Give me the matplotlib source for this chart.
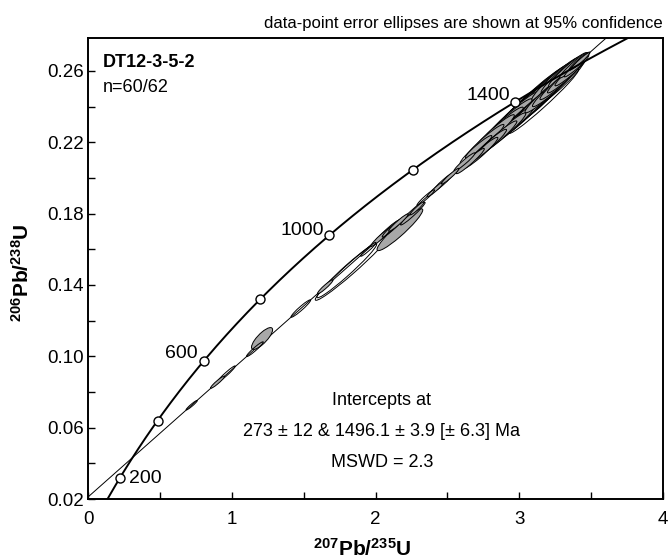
import numpy as np
import matplotlib
matplotlib.use('Agg')
import matplotlib.pyplot as plt
from matplotlib.patches import Ellipse
from matplotlib.ticker import MultipleLocator, FixedLocator

plt.rcParams['font.family'] = ['Liberation Sans', 'DejaVu Sans']
plt.rcParams['mathtext.fontset'] = 'custom'
plt.rcParams['mathtext.rm'] = 'Liberation Sans'
plt.rcParams['mathtext.bf'] = 'Liberation Sans:bold'
plt.rcParams['mathtext.it'] = 'Liberation Sans:italic'

# ---------------- data ----------------
sample_name = "DT12-3-5-2"
n_label = "n=60/62"
title_text = "data-point error ellipses are shown at 95% confidence"
intercept_lines = ["Intercepts at",
                   "273 ± 12 & 1496.1 ± 3.9 [± 6.3] Ma",
                   "MSWD = 2.3"]
lower_intercept_age = 273.0    # Ma
upper_intercept_age = 1496.1   # Ma
marker_ages = [200, 400, 600, 800, 1000, 1200, 1400]
labelled_ages = [200, 600, 1000, 1400]

x_ticks = [0, 1, 2, 3, 4]
y_ticks = [0.02, 0.06, 0.10, 0.14, 0.18, 0.22, 0.26]

# 207Pb/235U, 206Pb/238U, 1-sigma errors, error correlation, filled flag
pb207_u235 = [0.72, 0.90, 0.96, 1.16, 1.21, 1.48, 1.84, 1.80, 1.65, 1.95,
              2.04, 2.08, 2.12, 2.16, 2.17, 2.26, 2.29, 2.35, 2.42, 2.47,
              2.52, 2.62, 2.66, 2.70, 2.73, 2.76, 2.79, 2.82, 2.85, 2.87,
              2.90, 2.92, 2.95, 2.97, 3.00, 3.02, 3.04, 3.06, 3.08, 3.10,
              3.12, 3.14, 3.16, 3.18, 3.20, 3.22, 3.24, 3.26, 3.28, 3.30,
              3.32, 3.34, 3.36, 3.38, 3.40, 3.42, 3.43, 3.10, 3.25, 3.17]
pb206_u238 = [0.0726, 0.0855, 0.0900, 0.1040, 0.1100, 0.1268, 0.1500, 0.1480, 0.1390, 0.1600,
              0.1670, 0.1700, 0.1722, 0.1750, 0.1710, 0.1800, 0.1830, 0.1890, 0.1938, 0.1975,
              0.2010, 0.2090, 0.2095, 0.2160, 0.2140, 0.2205, 0.2185, 0.2250, 0.2225, 0.2285,
              0.2260, 0.2322, 0.2295, 0.2360, 0.2330, 0.2395, 0.2360, 0.2425, 0.2390, 0.2452,
              0.2418, 0.2482, 0.2448, 0.2508, 0.2478, 0.2532, 0.2505, 0.2558, 0.2535, 0.2582,
              0.2565, 0.2608, 0.2595, 0.2632, 0.2628, 0.2655, 0.2659, 0.2415, 0.2520, 0.2430]
sigma_x = [0.016, 0.020, 0.026, 0.024, 0.030, 0.028, 0.106, 0.085, 0.022, 0.022,
           0.030, 0.035, 0.030, 0.028, 0.065, 0.035, 0.020, 0.025, 0.025, 0.030,
           0.025, 0.030, 0.040, 0.045, 0.050, 0.055, 0.050, 0.060, 0.055, 0.065,
           0.060, 0.070, 0.065, 0.075, 0.070, 0.080, 0.065, 0.085, 0.070, 0.080,
           0.075, 0.085, 0.070, 0.080, 0.065, 0.075, 0.060, 0.070, 0.055, 0.060,
           0.050, 0.055, 0.045, 0.040, 0.035, 0.030, 0.025, 0.090, 0.085, 0.100]
sigma_y = [0.0011, 0.0014, 0.0019, 0.0017, 0.0025, 0.0020, 0.0076, 0.0062, 0.0016, 0.0016,
           0.0022, 0.0026, 0.0022, 0.0020, 0.0048, 0.0026, 0.0015, 0.0018, 0.0018, 0.0022,
           0.0018, 0.0021, 0.0029, 0.0032, 0.0036, 0.0039, 0.0036, 0.0043, 0.0039, 0.0046,
           0.0043, 0.0050, 0.0046, 0.0053, 0.0050, 0.0057, 0.0046, 0.0061, 0.0050, 0.0057,
           0.0053, 0.0061, 0.0050, 0.0057, 0.0046, 0.0053, 0.0043, 0.0050, 0.0039, 0.0043,
           0.0036, 0.0039, 0.0032, 0.0029, 0.0025, 0.0021, 0.0018, 0.0064, 0.0061, 0.0074]
rho = [0.96, 0.95, 0.97, 0.96, 0.80, 0.96, 0.978, 0.975, 0.95, 0.96,
       0.96, 0.97, 0.96, 0.96, 0.94, 0.97, 0.95, 0.96, 0.96, 0.96,
       0.96, 0.96, 0.96, 0.96, 0.96, 0.96, 0.96, 0.96, 0.96, 0.96,
       0.96, 0.96, 0.96, 0.96, 0.96, 0.96, 0.96, 0.96, 0.96, 0.96,
       0.96, 0.96, 0.96, 0.96, 0.96, 0.96, 0.96, 0.96, 0.96, 0.96,
       0.96, 0.96, 0.96, 0.96, 0.96, 0.96, 0.96, 0.95, 0.95, 0.98]
filled = [0, 1, 0, 0, 1, 0, 0, 0, 1, 0,
          1, 1, 0, 1, 1, 0, 1, 0, 1, 0,
          1, 1, 1, 0, 1, 1, 0, 1, 1, 0,
          1, 1, 0, 1, 1, 0, 1, 1, 1, 0,
          1, 1, 0, 1, 1, 1, 0, 1, 1, 0,
          1, 1, 0, 1, 1, 0, 1, 0, 0, 0]

# decay constants (per Ma)
LAMBDA238 = 1.55125e-4
LAMBDA235 = 9.8485e-4


def concordia(t):
    t = np.asarray(t, dtype=float)
    return np.exp(LAMBDA235 * t) - 1.0, np.exp(LAMBDA238 * t) - 1.0


# ---------------- figure ----------------
fig = plt.figure(figsize=(6.7, 5.6), dpi=100)
ax = fig.add_axes([88.3 / 670, 1 - 499 / 560, 574.4 / 670, 461 / 560])
ax.set_xlim(0, 4)
ax.set_ylim(0.02, 0.2785)

# discordia line
xa, ya = concordia(lower_intercept_age)
xb, yb = concordia(upper_intercept_age)
slope = (yb - ya) / (xb - xa)
xl = np.array([0.0, 4.0])
ax.plot(xl, ya + slope * (xl - xa), color='black', lw=0.7, zorder=2)

# error ellipses (95% confidence)
chi2 = 5.991
order = np.argsort([-sx * sy * np.sqrt(1 - r * r)
                    for sx, sy, r in zip(sigma_x, sigma_y, rho)])
for i in order:
    sx, sy, r = sigma_x[i], sigma_y[i], rho[i]
    cov = np.array([[sx * sx, r * sx * sy], [r * sx * sy, sy * sy]])
    vals, vecs = np.linalg.eigh(cov)
    vals = vals[::-1]
    vecs = vecs[:, ::-1]
    w = 2 * np.sqrt(chi2 * vals[0])
    h = 2 * np.sqrt(chi2 * vals[1])
    ang = np.degrees(np.arctan2(vecs[1, 0], vecs[0, 0]))
    e = Ellipse((pb207_u235[i], pb206_u238[i]), w, h, angle=ang,
                facecolor='#a8a8a8' if filled[i] else 'none',
                edgecolor='black', lw=0.7, zorder=3)
    ax.add_patch(e)

# concordia curve
tt = np.linspace(0, 1700, 800)
cx, cy = concordia(tt)
ax.plot(cx, cy, color='black', lw=1.4, zorder=5)
mx, my = concordia(marker_ages)
ax.plot(mx, my, 'o', ms=6.5, mfc='white', mec='black', mew=1.0, zorder=6,
        clip_on=False)

label_offsets = {200: (7, 0, 'left'), 600: (-4.5, 5, 'right'),
                 1000: (-3.5, 3.6, 'right'), 1400: (-3.6, 5, 'right')}
for age in labelled_ages:
    px, py = concordia(age)
    dx, dy, ha = label_offsets[age]
    ax.annotate(str(age), (px, py), xytext=(dx, dy), textcoords='offset points',
                ha=ha, va='center', fontsize=14, zorder=7)

# ticks
ax.xaxis.set_major_locator(FixedLocator(x_ticks))
ax.xaxis.set_minor_locator(MultipleLocator(0.5))
ax.yaxis.set_major_locator(FixedLocator(y_ticks))
ax.yaxis.set_minor_locator(FixedLocator([0.04, 0.08, 0.12, 0.16, 0.20, 0.24, 0.28]))
ax.set_xticklabels([str(v) for v in x_ticks])
ax.set_yticklabels(['%.2f' % v for v in y_ticks])
ax.tick_params(which='both', direction='in', width=1.0, labelsize=13.5,
               top=False, right=False)
ax.tick_params(axis='x', which='major', length=5, pad=9)
ax.tick_params(axis='y', which='major', length=5, pad=3)
ax.tick_params(which='minor', length=5)
for s in ax.spines.values():
    s.set_linewidth(1.4)

# texts
ax.text(0.0256, 0.938, sample_name, transform=ax.transAxes, fontsize=13,
        fontweight='bold', va='baseline', ha='left')
ax.text(0.0256, 0.8835, n_label, transform=ax.transAxes, fontsize=13,
        va='baseline', ha='left')
for txt, yy in zip(intercept_lines, [0.204, 0.137, 0.069]):
    ax.text(0.511, yy, txt, transform=ax.transAxes, fontsize=13,
            ha='center', va='baseline')

fig.text(663 / 670, 1 - 28 / 560, title_text, fontsize=12, ha='right',
         va='baseline')
fig.text(362 / 670, 1 - 556 / 560, r'$\mathbf{^{207}Pb/^{235}U}$', fontsize=15,
         ha='center', va='baseline')
fig.text(22 / 670, 1 - 273 / 560, r'$\mathbf{^{206}Pb/^{238}U}$', fontsize=15,
         ha='center', va='center', rotation=90)

fig.savefig('out.png', dpi=100)
